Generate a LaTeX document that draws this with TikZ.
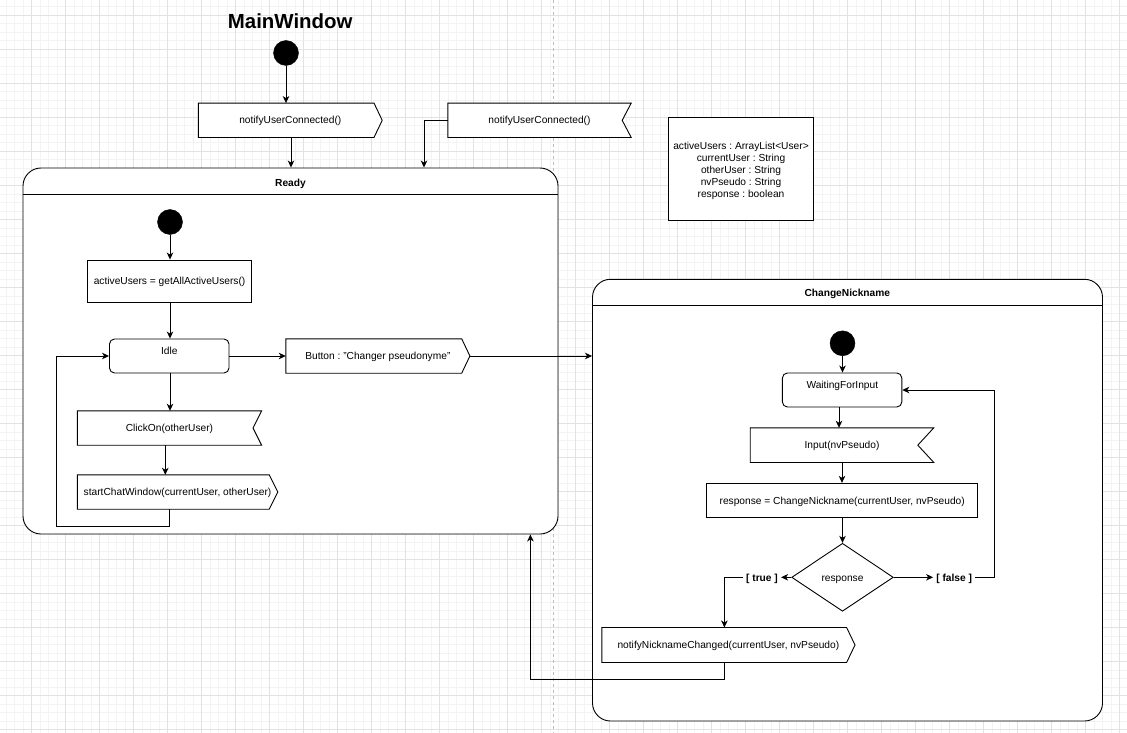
\documentclass[tikz,border=0pt]{standalone}
\usepackage{fontspec}
\setmainfont{Liberation Sans}
\frenchspacing
\usetikzlibrary{arrows.meta,shapes.geometric,calc}
\definecolor{gridmin}{HTML}{F3F3F3}
\definecolor{gridmaj}{HTML}{E2E2E2}
\definecolor{pagebrk}{HTML}{BDBDBD}
\tikzset{
  every node/.style={font=\fontsize{10.2}{12.2}\selectfont, text=black},
  tm/.style={text height=7.4pt, text depth=0pt},
  shapeline/.style={draw=black, line width=0.9pt},
  arr/.style={draw=black, line width=0.9pt, -{Stealth[length=7pt,width=6.5pt,inset=2pt]}},
  plainbox/.style={shapeline, fill=white, rectangle, inner sep=0pt, tm},
  statebox/.style={shapeline, fill=white, rectangle, rounded corners=5pt, inner sep=0pt},
  sigbox/.style={rectangle, draw=none, inner sep=0pt},
  txt/.style={inner sep=0pt, align=center, tm},
  vtxt/.style={inner sep=0pt, align=center, font=\fontsize{10.2}{12}\selectfont},
  initst/.style={circle, fill=black, draw=black, minimum size=25pt, inner sep=0pt},
  container/.style={shapeline, fill=white, rectangle, rounded corners=18pt, inner sep=0pt},
  ctitle/.style={font=\fontsize{10.2}{12.2}\selectfont\bfseries, inner sep=0pt, tm},
  lbl/.style={font=\fontsize{10.2}{12.2}\selectfont\bfseries, fill=white, inner xsep=3pt, inner ysep=1pt, tm},
  decision/.style={diamond, shapeline, fill=white, inner sep=0pt, tm}
}
\newcommand\sendnode[7]{%
  \node[sigbox, minimum width=#4pt, minimum height=#5pt] (#1) at (#2,#3) {};
  \draw[shapeline, fill=white] (#1.north west) -- ([xshift=-#6pt]#1.north east) -- (#1.east) -- ([xshift=-#6pt]#1.south east) -- (#1.south west) -- cycle;
  \node[txt] (#1-t) at (#1.center) {#7};}
\newcommand\recvnode[7]{%
  \node[sigbox, minimum width=#4pt, minimum height=#5pt] (#1) at (#2,#3) {};
  \draw[shapeline, fill=white] (#1.north west) -- (#1.north east) -- ([xshift=-#6pt]#1.east) -- (#1.south east) -- (#1.south west) -- cycle;
  \node[txt] (#1-t) at (#1.center) {#7};}
\begin{document}
\begin{tikzpicture}[x=1pt,y=-1pt]
\useasboundingbox (0,0) rectangle (1127,733);
\fill[white] (0,0) rectangle (1127,733);
% grid
\begin{scope}
\clip (0,0) rectangle (1127,733);
\foreach \x in {-2.3,6.2,...,1135} {\draw[gridmin, line width=0.6pt] (\x,0) -- (\x,733);}
\foreach \y in {-1.7,6.8,...,740} {\draw[gridmin, line width=0.6pt] (0,\y) -- (1127,\y);}
\foreach \x in {-2.3,31.7,...,1135} {\draw[gridmaj, line width=0.7pt] (\x,0) -- (\x,733);}
\foreach \y in {-18.7,15.3,...,740} {\draw[gridmaj, line width=0.7pt] (0,\y) -- (1127,\y);}
\end{scope}
% page break
\draw[pagebrk, line width=0.6pt, dash pattern=on 3pt off 3pt] (553.3,0) -- (553.3,733);

% title
\node[font=\fontsize{20.4}{24}\selectfont\bfseries, inner sep=0pt] (title) at (290.2,21) {MainWindow};

% top part
\node[initst] (init1) at (286,53) {};
\sendnode{sig1}{290.3}{120.3}{183.4}{34}{8.2}{notifyUserConnected()}
\recvnode{sig2}{539.5}{120.3}{183}{34}{9}{notifyUserConnected()}

% variables
\node[shapeline, fill=white, rectangle, inner sep=0pt, minimum width=145pt, minimum height=102.3pt] (vars) at (741,168.9) {};
\node[vtxt] (varst) at (741,170.7)
  {activeUsers : ArrayList<User>\\currentUser : String\\otherUser : String\\nvPseudo : String\\response : boolean};

% Ready container
\node[container, minimum width=535pt, minimum height=366pt] (ready) at (290.5,351) {};
\draw[shapeline] (ready.west |- 0,194) -- (ready.east |- 0,194);
\node[ctitle] (readyt) at (290.5,182.5) {Ready};

\node[initst] (init2) at (170,222) {};
\node[plainbox, minimum width=163.6pt, minimum height=42pt] (au) at (169.6,281) {activeUsers = getAllActiveUsers()};
\node[statebox, minimum width=119.5pt, minimum height=34pt] (idle) at (169.25,356) {};
\node[txt] (idlet) at (169.25,350.7) {Idle};
\sendnode{btn}{377.85}{356}{183.7}{34}{8.2}{Button : "Changer pseudonyme"}
\recvnode{clk}{169.45}{428}{183.9}{34}{8.6}{ClickOn(otherUser)}
\sendnode{scw}{177.55}{492}{200.1}{34}{8.6}{startChatWindow(currentUser, otherUser)}

% ChangeNickname container
\node[container, minimum width=510pt, minimum height=441.7pt] (cn) at (847.5,500.15) {};
\draw[shapeline] (cn.west |- 0,305) -- (cn.east |- 0,305);
\node[ctitle] (cnt) at (847.3,292.8) {ChangeNickname};

\node[initst] (init3) at (842.5,343.3) {};
\node[statebox, minimum width=119.4pt, minimum height=34pt] (wfi) at (842.1,390) {};
\node[txt] (wfit) at (842.3,384.6) {WaitingForInput};
\recvnode{inp}{842}{445.15}{183.2}{34.3}{16}{Input(nvPseudo)}
\node[plainbox, minimum width=270.8pt, minimum height=34.4pt] (resp) at (842.2,500.5) {response = ChangeNickname(currentUser, nvPseudo)};
\node[decision, minimum width=101.6pt, minimum height=68pt] (dia) at (842.5,577.3) {response};
\node[lbl] (tru) at (762,577.3) {[ true ]};
\node[lbl] (fal) at (954.2,577.3) {[ false ]};
\sendnode{nnc}{728.4}{645}{252.8}{34.6}{8.4}{notifyNicknameChanged(currentUser, nvPseudo)}

% connectors: top
\draw[arr] (init1) -- (init1.south |- sig1.north);
\draw[arr] (sig1.south -| 291,0) -- (291,0 |- ready.north);
\draw[arr] (sig2.west) -| (424,0 |- ready.north);

% connectors: Ready
\draw[arr] (init2) -- (init2.south |- au.north);
\draw[arr] (au.south -| 170,0) -- (170,0 |- idle.north);
\draw[arr] (idle.east) -- (btn.west);
\draw[arr] (idle.south -| 170,0) -- (170,0 |- clk.north);
\draw[arr] (clk.south -| 165.3,0) -- (165.3,0 |- scw.north);
\draw[arr] (scw.south -| 169.4,0) |- (56.5,526) |- (idle.west);
\draw[arr] (btn.east) -- (cn.west |- btn.east);

% connectors: ChangeNickname
\draw[arr] (init3) -- (init3.south |- wfi.north);
\draw[arr] (wfi.south -| 839,0) -- (839,0 |- inp.north);
\draw[arr] (inp.south -| 842,0) -- (842,0 |- resp.north);
\draw[arr] (resp.south -| 842.5,0) -- (dia.north);
\draw[arr] (dia.west) -- (tru.east);
\draw[arr] (dia.east) -- (fal.west);
\draw[arr] (fal.east) -| (994.3,0 |- wfi.east) -- (wfi.east);
\draw[arr] (tru.west) -| (724.4,0 |- nnc.north);
\draw[arr] (nnc.south -| 724.4,0) |- (530.4,679) -- (530.4,0 |- ready.south);
\end{tikzpicture}
\end{document}
